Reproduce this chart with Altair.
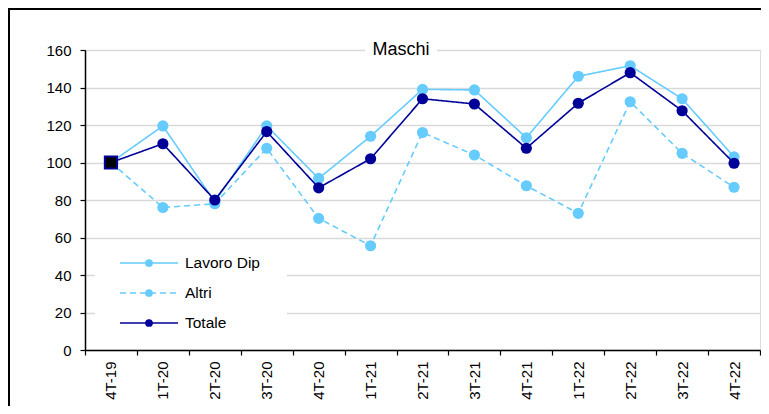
import altair as alt
import pandas as pd

quarters = ["4T-19", "1T-20", "2T-20", "3T-20", "4T-20", "1T-21", "2T-21",
            "3T-21", "4T-21", "1T-22", "2T-22", "3T-22", "4T-22"]
lavoro_dip = [100, 119.5, 79, 119.5, 91.5, 114, 139, 138.7, 113.2, 146, 151.6, 134, 103]
altri = [100, 76, 78, 107.6, 70.2, 55.6, 116, 104, 87.6, 72.9, 132.4, 104.9, 86.8]
totale = [100, 110, 80, 116.5, 86.5, 102, 134, 131.2, 107.6, 131.6, 147.9, 127.6, 99.6]
series_names = ["Lavoro Dip", "Altri", "Totale"]
title_text = "Maschi"
y_ticks = [0, 20, 40, 60, 80, 100, 120, 140, 160]

LIGHT = "#66CCFF"
NAVY = "#000099"
FONT = "Liberation Sans"
W, H = 675, 300

rows = []
for name, vals in zip(series_names, [lavoro_dip, altri, totale]):
    for q, v in zip(quarters, vals):
        rows.append({"quarter": q, "serie": name, "value": v})
df = pd.DataFrame(rows)

x_enc = alt.X("quarter:N", sort=quarters,
              scale=alt.Scale(domain=quarters, paddingInner=0, paddingOuter=0),
              axis=alt.Axis(title=None, labelAngle=-90, tickBand="extent", tickSize=5,
                            labelPadding=6, domainColor="black", tickColor="black",
                            domainWidth=1.5, tickWidth=1.2, grid=False, labelFontSize=15,
                            labelFont=FONT, labelColor="black"))
y_enc = alt.Y("value:Q", scale=alt.Scale(domain=[0, 160], nice=False),
              axis=alt.Axis(values=y_ticks, title=None, gridColor="#d9d9d9", gridWidth=1.5,
                            domainColor="black", tickColor="black", domainWidth=1.5,
                            tickWidth=1.2, tickSize=5, labelPadding=9, labelFontSize=15,
                            labelFont=FONT, labelColor="black"))

base = alt.Chart(df)

one = pd.DataFrame({"k": [0]})

# white boxes covering gridlines behind title and legend
title_box = alt.Chart(one).mark_rect(fill="white").encode(
    x=alt.value(280), x2=alt.value(352), y=alt.value(-10), y2=alt.value(10))
legend_box = alt.Chart(one).mark_rect(fill="white").encode(
    x=alt.value(10), x2=alt.value(202), y=alt.value(195), y2=alt.value(290))

frame = alt.Chart(one).mark_rect(fill=None, stroke="black", strokeWidth=2).encode(
    x=alt.value(-76), x2=alt.value(W + 60), y=alt.value(-41), y2=alt.value(H + 120))

styles = {
    "Lavoro Dip": dict(color=LIGHT, dash=[1, 0]),
    "Altri": dict(color=LIGHT, dash=[6, 4]),
    "Totale": dict(color=NAVY, dash=[1, 0]),
}

layers = [frame, title_box, legend_box]
for name in ["Altri", "Lavoro Dip", "Totale"]:
    st = styles[name]
    sub = base.transform_filter(alt.datum.serie == name)
    layers.append(sub.mark_line(color=st["color"], strokeWidth=1.6,
                                strokeDash=st["dash"]).encode(x=x_enc, y=y_enc))
    layers.append(sub.mark_circle(color=st["color"], size=125, opacity=1).encode(x=x_enc, y=y_enc))

first_tot = base.transform_filter(
    (alt.datum.serie == "Totale") & (alt.datum.quarter == quarters[0])
).mark_square(fill="black", stroke=NAVY, strokeWidth=2, size=150, opacity=1).encode(x=x_enc, y=y_enc)
layers.append(first_tot)

title_mark = alt.Chart(one).mark_text(text=title_text, font=FONT, fontSize=18,
                                      color="black", baseline="middle", align="center").encode(
    x=alt.value(316), y=alt.value(0))
layers.append(title_mark)

for i, name in enumerate(series_names):
    st = styles[name]
    yy = 213 + 30 * i
    ld = pd.DataFrame({"serie": [name]})
    layers.append(alt.Chart(ld).mark_rule(color=st["color"], strokeWidth=1.6,
                                          strokeDash=st["dash"]).encode(
        x=alt.value(35), x2=alt.value(93), y=alt.value(yy)))
    layers.append(alt.Chart(ld).mark_circle(color=st["color"], size=60, opacity=1).encode(
        x=alt.value(64), y=alt.value(yy)))
    layers.append(alt.Chart(ld).mark_text(font=FONT, fontSize=15.5, color="black",
                                          align="left", baseline="middle").encode(
        x=alt.value(100), y=alt.value(yy), text="serie:N"))

chart = alt.layer(*layers).properties(
    width=W, height=H,
    autosize=alt.AutoSizeParams(type="none"),
    padding={"left": 77, "top": 42, "right": 1, "bottom": 56},
).configure_view(stroke=None).configure(background="white")

chart.save("out.html", embed_options={"renderer": "svg", "actions": False})
